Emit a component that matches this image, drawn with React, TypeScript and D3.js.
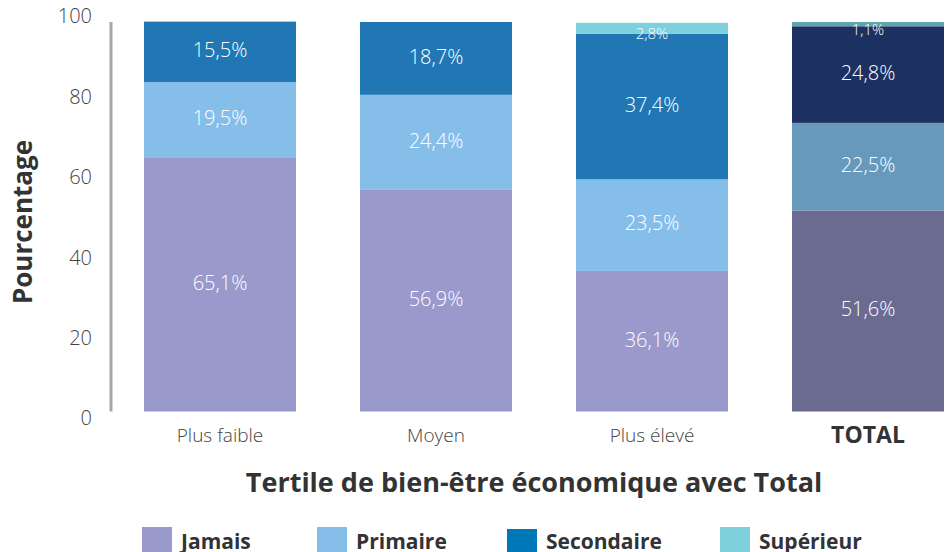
import React from "react";
import * as d3 from "d3";

const categories = ["Plus faible", "Moyen", "Plus élevé", "TOTAL"];
const seriesNames = ["Jamais", "Primaire", "Secondaire", "Supérieur"];
const jamais = [65.1, 56.9, 36.1, 51.6];
const primaire = [19.5, 24.4, 23.5, 22.5];
const secondaire = [15.5, 18.7, 37.4, 24.8];
const superieur = [0, 0, 2.8, 1.1];
const yTicks = [0, 20, 40, 60, 80, 100];

const colors = ["#9999cc", "#85bee9", "#2077b4", "#7dd0dc"];
const totalColors = ["#6b6b91", "#6699bc", "#1c3161", "#5fa5ae"];
const legendColors = ["#9999cc", "#85bee9", "#0077b6", "#7dd0dc"];

const W = 945;
const H = 552;
const font = "'Open Sans', 'Noto Sans', sans-serif";

export default function App() {
  const series = [jamais, primaire, secondaire, superieur];
  const rows = categories.map((c, i) => {
    const r: any = { cat: c };
    seriesNames.forEach((s, j) => (r[s] = series[j][i]));
    return r;
  });
  const stacked = d3.stack<any>().keys(seriesNames)(rows);

  const x = d3
    .scaleBand<string>()
    .domain(categories)
    .range([144, 944])
    .paddingInner(64 / 216)
    .paddingOuter(0);
  const y = d3.scaleLinear().domain([0, 100]).range([411.5, 22]);
  const yLabel = d3.scaleLinear().domain([0, 100]).range([420, 18]);

  const fmt = (v: number) => v.toFixed(1).replace(".", ",") + "%";

  const legendX = [142, 317, 507, 720];

  return (
    <svg
      width={W}
      height={H}
      style={{ position: "absolute", left: 0, top: 0, fontFamily: font }}
    >
      <rect width={W} height={H} fill="#fff" />
      {/* y axis */}
      <line x1={111} x2={111} y1={y(100)} y2={y(0)} stroke="#a6a6a6" strokeWidth={3} />
      {yTicks.map((t) => (
        <text
          key={t}
          x={92}
          y={yLabel(t)}
          textAnchor="end"
          dominantBaseline="middle"
          fontSize={20}
          fontWeight={300}
          fill="#444"
        >
          {t}
        </text>
      ))}
      <text
        transform={`translate(25,222) rotate(-90)`}
        textAnchor="middle"
        dominantBaseline="middle"
        fontSize={26}
        fontWeight={700}
        fill="#333"
      >
        Pourcentage
      </text>

      {/* bars */}
      {stacked.map((layer, si) =>
        layer.map((d, ci) => {
          const v = d[1] - d[0];
          if (v <= 0) return null;
          const isTotal = ci === categories.length - 1;
          const x0 = x(categories[ci]) as number;
          const yTop = y(d[1]);
          const yBot = y(d[0]);
          const small = v < 5;
          return (
            <g key={`${si}-${ci}`}>
              <rect
                x={x0}
                y={yTop}
                width={x.bandwidth()}
                height={yBot - yTop}
                fill={isTotal ? totalColors[si] : colors[si]}
              />
              <text
                x={x0 + x.bandwidth() / 2}
                y={(yTop + yBot) / 2 + (small ? 7 : 0)}
                textAnchor="middle"
                dominantBaseline="middle"
                fontSize={small ? 15 : 20}
                fontWeight={300}
                fill="#fff"
              >
                {fmt(v)}
              </text>
            </g>
          );
        })
      )}

      {/* category labels */}
      {categories.map((c, i) => {
        const isTotal = i === categories.length - 1;
        return (
          <text
            key={c}
            x={(x(c) as number) + x.bandwidth() / 2}
            y={437}
            textAnchor="middle"
            dominantBaseline="middle"
            fontSize={isTotal ? 23 : 19}
            fontWeight={isTotal ? 700 : 300}
            fill={isTotal ? "#333" : "#444"}
          >
            {c}
          </text>
        );
      })}

      <text
        x={534}
        y={485}
        textAnchor="middle"
        dominantBaseline="middle"
        fontSize={27}
        fontWeight={700}
        fill="#333"
      >
        Tertile de bien-être économique avec Total
      </text>

      {/* legend */}
      {seriesNames.map((s, i) => (
        <g key={s}>
          <rect
            x={legendX[i]}
            y={i === 2 ? 529 : 527}
            width={30}
            height={26}
            fill={legendColors[i]}
          />
          <text x={legendX[i] + 39} y={549} fontSize={21} fontWeight={700} fill="#333">
            {s}
          </text>
        </g>
      ))}
    </svg>
  );
}
